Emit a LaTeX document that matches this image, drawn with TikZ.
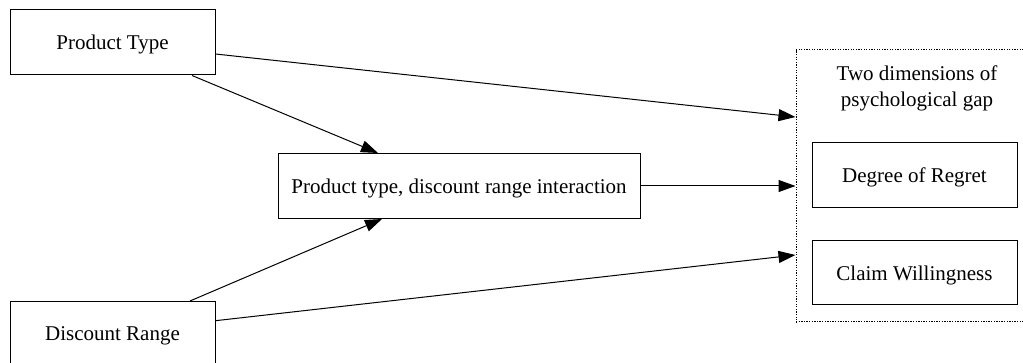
\documentclass[tikz,border=0pt]{standalone}
\usepackage{fontspec}
\setmainfont{Liberation Serif}
\usetikzlibrary{arrows.meta}
\begin{document}
\begin{tikzpicture}[x=1pt,y=-1pt,
  box/.style={draw=black,line width=1pt,rectangle,minimum width=205pt,minimum height=65pt,inner sep=0pt,text depth=0pt,font=\fontsize{21}{26}\selectfont},
  grpbox/.style={draw=black,line width=1pt,dash pattern=on 1.3pt off 1.3pt,rectangle,inner sep=0pt},
  lbl/.style={font=\fontsize{21}{26}\selectfont,align=center,inner sep=0pt},
  arr/.style={line width=1pt,-{Triangle[length=17pt,width=12pt]}}]
\useasboundingbox (0,0) rectangle (1023,363);
\node[box] (pt) at (112.5,42.5) {Product Type};
\node[box] (dr) at (112.5,334) {Discount Range};
\node[box,minimum width=362pt] (mid) at (459,186) {Product type, discount range interaction};
\node[grpbox,minimum width=252pt,minimum height=272pt] (grp) at (922,186) {};
\node[lbl] (ttl) at (917,88) {Two dimensions of\\psychological gap};
\node[box] (reg) at (914.5,175) {Degree of Regret};
\node[box,minimum height=64pt] (clm) at (914.5,273) {Claim Willingness};
\draw[arr] ([yshift=-11.5pt]pt.east) -- ([yshift=69pt]grp.west);
\draw[arr] ([xshift=79.5pt]pt.south) -- ([xshift=-81pt]mid.north);
\draw[arr] ([xshift=77.5pt]dr.north) -- ([xshift=-77pt]mid.south);
\draw[arr] (mid.east) -- (grp.west);
\draw[arr] ([yshift=13.3pt]dr.east) -- ([yshift=-69pt]grp.west);
\end{tikzpicture}
\end{document}
